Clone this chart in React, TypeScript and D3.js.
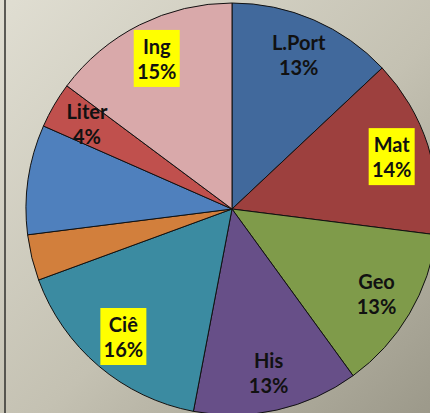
import { useEffect, useRef } from "react";
import * as d3 from "d3";

const subjects = ["L.Port", "Mat", "Geo", "His", "Ciê", "Outro1", "Outro2", "Liter", "Ing"];
const shares = [13, 14, 13, 13, 16.4, 3.6, 8.6, 3.6, 14.8];
const labels = ["L.Port", "Mat", "Geo", "His", "Ciê", "", "", "Liter", "Ing"];
const percentLabels = ["13%", "14%", "13%", "13%", "16%", "", "", "4%", "15%"];
const highlighted = ["Mat", "Ciê", "Ing"];
const colors = ["#41699c", "#9d403e", "#7f9b4a", "#674f88", "#3b8ba1", "#d27f3c", "#4f80bd", "#c0504d", "#d9a9aa"];

const W = 430;
const H = 413;

const App = () => {
  const svgRef = useRef<SVGSVGElement>(null);

  useEffect(() => {
    const svg = d3.select(svgRef.current);
    svg.selectAll("*").remove();

    // background gradient like the office chart area
    const defs = svg.append("defs");
    const grad = defs
      .append("linearGradient")
      .attr("id", "bg")
      .attr("x1", "0%").attr("y1", "0%")
      .attr("x2", "100%").attr("y2", "100%");
    grad.append("stop").attr("offset", "0%").attr("stop-color", "#e0ded2");
    grad.append("stop").attr("offset", "55%").attr("stop-color", "#c4c1b2");
    grad.append("stop").attr("offset", "100%").attr("stop-color", "#9c998a");

    svg.append("rect").attr("width", W).attr("height", H).attr("fill", "url(#bg)");
    svg.append("line")
      .attr("x1", 5).attr("x2", 5).attr("y1", 0).attr("y2", H)
      .attr("stroke", "#3a3a36").attr("stroke-width", 1.6);

    const cx = 232, cy = 209, r = 206;
    const g = svg.append("g").attr("transform", `translate(${cx},${cy})`);

    const data = subjects.map((s, i) => ({ subject: s, value: shares[i], i }));
    const pie = d3.pie<any>().value((d) => d.value).sort(null);
    const arcs = pie(data);
    const arc = d3.arc<any>().innerRadius(0).outerRadius(r);
    const labelArc = d3.arc<any>().innerRadius(r * 0.815).outerRadius(r * 0.815);

    g.selectAll("path.slice")
      .data(arcs)
      .enter()
      .append("path")
      .attr("class", "slice")
      .attr("d", arc)
      .attr("fill", (d) => colors[d.data.i])
      .attr("stroke", "#111")
      .attr("stroke-width", 1);

    const lab = g.selectAll("g.lab")
      .data(arcs.filter((d) => labels[d.data.i] !== ""))
      .enter()
      .append("g")
      .attr("class", "lab")
      .attr("transform", (d) => {
        const [x, y] = labelArc.centroid(d);
        return `translate(${x},${y})`;
      });

    lab.filter((d) => highlighted.includes(d.data.subject))
      .append("rect")
      .attr("x", -23).attr("y", -29)
      .attr("width", 46).attr("height", 57)
      .attr("fill", "#ffff00");

    lab.append("text")
      .attr("text-anchor", "middle")
      .attr("y", -5)
      .style("font-family", "Lato, 'Open Sans', sans-serif")
      .style("font-weight", 700)
      .style("font-size", "20px")
      .attr("fill", "#111")
      .text((d) => labels[d.data.i]);

    lab.append("text")
      .attr("text-anchor", "middle")
      .attr("y", 20)
      .style("font-family", "Lato, 'Open Sans', sans-serif")
      .style("font-weight", 700)
      .style("font-size", "20px")
      .attr("fill", "#111")
      .text((d) => percentLabels[d.data.i]);
  }, []);

  return (
    <div style={{ position: "fixed", left: 0, top: 0, width: W, height: H }}>
      <svg ref={svgRef} width={W} height={H}></svg>
    </div>
  );
};

export default App;
